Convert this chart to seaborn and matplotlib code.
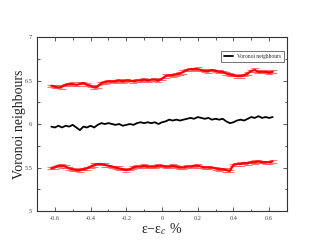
import numpy as np
import pandas as pd
import matplotlib
matplotlib.use("Agg")
import matplotlib.pyplot as plt
from matplotlib.ticker import MultipleLocator
import seaborn as sns

x = [-0.62, -0.60, -0.58, -0.56, -0.54, -0.52, -0.50, -0.48, -0.46, -0.44,
     -0.42, -0.40, -0.38, -0.36, -0.34, -0.32, -0.30, -0.28, -0.26, -0.24,
     -0.22, -0.20, -0.18, -0.16, -0.14, -0.12, -0.10, -0.08, -0.06, -0.04,
     -0.02, 0.00, 0.02, 0.04, 0.06, 0.08, 0.10, 0.12, 0.14, 0.16,
     0.18, 0.20, 0.22, 0.24, 0.26, 0.28, 0.30, 0.32, 0.34, 0.36,
     0.38, 0.40, 0.42, 0.44, 0.46, 0.48, 0.50, 0.52, 0.54, 0.56,
     0.58, 0.60, 0.62]

voronoi = [5.97, 5.96, 5.98, 5.96, 5.98, 5.97, 5.99, 5.96, 5.93, 5.97,
           5.96, 5.98, 5.96, 5.99, 6.01, 6.00, 6.01, 6.00, 5.99, 6.00,
           5.98, 5.99, 6.00, 5.99, 6.01, 6.02, 6.01, 6.02, 6.01, 6.02,
           6.00, 6.02, 6.03, 6.05, 6.04, 6.05, 6.04, 6.05, 6.06, 6.07,
           6.06, 6.08, 6.07, 6.06, 6.07, 6.05, 6.06, 6.05, 6.06, 6.03,
           6.01, 6.02, 6.04, 6.05, 6.04, 6.06, 6.08, 6.07, 6.09, 6.07,
           6.08, 6.07, 6.08]

upper = [6.44, 6.43, 6.42, 6.43, 6.45, 6.46, 6.46, 6.45, 6.46, 6.47,
         6.45, 6.44, 6.42, 6.43, 6.47, 6.48, 6.49, 6.49, 6.49, 6.50,
         6.49, 6.50, 6.50, 6.49, 6.50, 6.50, 6.51, 6.50, 6.51, 6.51,
         6.50, 6.52, 6.55, 6.56, 6.56, 6.57, 6.58, 6.60, 6.62, 6.63,
         6.63, 6.63, 6.62, 6.61, 6.61, 6.62, 6.61, 6.60, 6.60, 6.58,
         6.57, 6.56, 6.55, 6.55, 6.56, 6.58, 6.61, 6.62, 6.60, 6.60,
         6.60, 6.59, 6.60]

lower = [5.49, 5.50, 5.52, 5.52, 5.51, 5.49, 5.48, 5.47, 5.47, 5.48,
         5.49, 5.51, 5.53, 5.54, 5.54, 5.53, 5.52, 5.51, 5.50, 5.49,
         5.48, 5.47, 5.48, 5.50, 5.51, 5.51, 5.52, 5.51, 5.51, 5.51,
         5.52, 5.52, 5.51, 5.51, 5.52, 5.51, 5.50, 5.50, 5.51, 5.51,
         5.52, 5.52, 5.51, 5.50, 5.50, 5.50, 5.49, 5.48, 5.48, 5.47,
         5.46, 5.53, 5.54, 5.54, 5.55, 5.55, 5.56, 5.56, 5.57, 5.56,
         5.56, 5.56, 5.57]

band_err = [0.012, 0.018, 0.010, 0.022, 0.014, 0.016, 0.020, 0.011, 0.024, 0.013,
            0.017, 0.010, 0.021, 0.015, 0.012, 0.019, 0.014, 0.010, 0.016, 0.022,
            0.013, 0.018, 0.011, 0.015, 0.020, 0.012, 0.017, 0.014, 0.010, 0.019,
            0.016, 0.013, 0.021, 0.011, 0.018, 0.015, 0.012, 0.020, 0.014, 0.017,
            0.010, 0.022, 0.013, 0.016, 0.019, 0.011, 0.015, 0.018, 0.012, 0.021,
            0.014, 0.010, 0.017, 0.020, 0.013, 0.016, 0.011, 0.023, 0.015, 0.012,
            0.018, 0.014, 0.016]

xticks = [-0.6, -0.4, -0.2, 0, 0.2, 0.4, 0.6]
xticklabels = ["-0.6", "-0.4", "-0.2", "0", "0.2", "0.4", "0.6"]
yticks = [5, 5.5, 6, 6.5, 7]
yticklabels = ["5", "5.5", "6", "6.5", "7"]

sns.set_style("ticks")
plt.rcParams['font.family'] = ['Liberation Serif', 'DejaVu Serif']
plt.rcParams['mathtext.fontset'] = 'stix'

fig = plt.figure(figsize=(3.23, 2.49), dpi=100)
ax = fig.add_axes([0.1146, 0.1526, 0.7739, 0.6988])

df = pd.DataFrame({"x": x, "voronoi": voronoi, "upper": upper, "lower": lower,
                   "err": band_err})

for col in ["upper", "lower"]:
    ax.errorbar(df["x"], df[col], yerr=df["err"], fmt="none", ecolor=(1, 0.35, 0.35),
                elinewidth=0, capsize=3.2, capthick=0.6)
    sns.lineplot(data=df, x="x", y=col, ax=ax, color="red", lw=1.6, legend=False)

sns.lineplot(data=df, x="x", y="voronoi", ax=ax, color="black", lw=1.3,
             label="Voronoi neighbours")

ax.set_xlim(-0.7, 0.7)
ax.set_ylim(5, 7)
ax.set_xticks(xticks)
ax.set_xticklabels(xticklabels)
ax.set_yticks(yticks)
ax.set_yticklabels(yticklabels)
ax.xaxis.set_minor_locator(MultipleLocator(0.1))
ax.yaxis.set_minor_locator(MultipleLocator(0.25))
ax.tick_params(which="both", direction="in", top=True, right=True,
               labelsize=4.5, colors="#444444", width=0.6)
ax.tick_params(which="major", length=3)
ax.tick_params(which="minor", length=1.8)
for s in ax.spines.values():
    s.set_linewidth(0.8)
    s.set_color("#333333")

ax.set_xlabel(r"ε−ε$_c$ %", fontsize=10, labelpad=0, color="#222222")
ax.set_ylabel("Voronoi neighbours", fontsize=10, labelpad=-1, color="#222222")

leg = ax.legend(loc="upper right", bbox_to_anchor=(1.0, 0.935), fontsize=4,
                frameon=True, fancybox=False, handlelength=1.6, borderpad=0.5,
                handletextpad=0.8)
leg.get_frame().set_edgecolor("#333333")
leg.get_frame().set_linewidth(0.6)

fig.savefig("out.png", dpi=100)
